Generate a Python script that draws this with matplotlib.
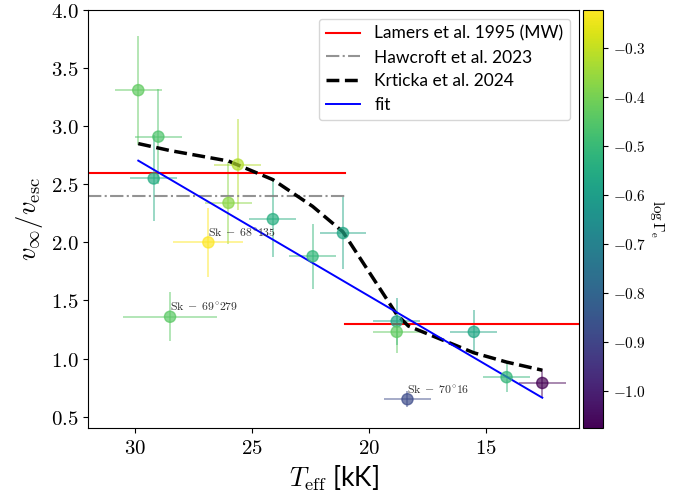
import numpy as np
import matplotlib
matplotlib.use("Agg")
import matplotlib.pyplot as plt
from matplotlib.ticker import FuncFormatter

plt.rcParams['mathtext.fontset'] = 'cm'

# data
teff = [29.86, 29.0, 29.2, 25.6, 26.0, 24.1, 21.1, 26.86, 22.4, 28.5, 18.8, 18.8, 15.5, 14.1, 12.57, 18.34]
teff_err = [1.0, 1.0, 1.0, 1.0, 1.0, 1.0, 1.0, 1.5, 1.0, 2.0, 1.0, 1.0, 1.0, 1.0, 1.0, 1.0]
vratio = [3.31, 2.91, 2.55, 2.67, 2.34, 2.20, 2.08, 2.00, 1.88, 1.36, 1.32, 1.23, 1.23, 0.84, 0.79, 0.65]
vratio_err = [0.47, 0.41, 0.37, 0.39, 0.35, 0.33, 0.31, 0.30, 0.28, 0.21, 0.20, 0.18, 0.19, 0.13, 0.12, 0.07]
log_gamma = [-0.43, -0.46, -0.55, -0.32, -0.37, -0.54, -0.57, -0.223, -0.51, -0.44, -0.58, -0.43, -0.57, -0.51, -1.075, -0.88]

labels = {7: r'$\rm Sk\;-\;68^{\circ}135$', 9: r'$\rm Sk\;-\;69^{\circ}279$', 15: r'$\rm Sk\;-\;70^{\circ}16$'}

lamers_hot = 2.6
lamers_cool = 1.3
hawcroft = 2.4
jump_T = 21.0

krt_T = [29.86, 28.5, 26.0, 24.1, 22.4, 21.1, 18.8, 18.3, 15.5, 14.1, 12.57]
krt_v = [2.85, 2.79, 2.70, 2.54, 2.31, 2.09, 1.38, 1.28, 1.05, 0.97, 0.90]

fit_coef = [0.118, -0.82]
fit_T = np.array([29.86, 12.57])

fig = plt.figure(figsize=(7.0, 5.01), dpi=100)
ax = fig.add_axes([0.1261, 0.1451, 0.701, 0.835])
cax = fig.add_axes([0.8324, 0.1451, 0.0294, 0.835])

xmin, xmax = 32, 11
ax.set_xlim(xmin, xmax)
ax.set_ylim(0.4, 4.0)

cmap = plt.get_cmap('viridis')
norm = plt.Normalize(min(log_gamma), max(log_gamma))

for i in range(len(teff)):
    ax.errorbar(teff[i], vratio[i], xerr=teff_err[i], yerr=vratio_err[i],
                fmt='none', ecolor=cmap(norm(log_gamma[i])), alpha=0.5, lw=1.3)
sc = ax.scatter(teff, vratio, c=log_gamma, cmap=cmap, norm=norm, s=65, alpha=0.7, zorder=3)

for i, txt in labels.items():
    ax.text(teff[i], vratio[i] + 0.05, txt, fontsize=8.5, color='#333333')

ax.plot([xmin, jump_T], [lamers_hot, lamers_hot], color='red', lw=1.5, label='Lamers et al. 1995 (MW)')
ax.plot([jump_T, xmax], [lamers_cool, lamers_cool], color='red', lw=1.5)
ax.plot([xmin, jump_T], [hawcroft, hawcroft], color='gray', alpha=0.85, ls='-.', lw=1.5, label='Hawcroft et al. 2023')
ax.plot(krt_T, krt_v, color='black', ls='--', lw=2.5, label='Krticka et al. 2024')
ax.plot(fit_T, np.polyval(fit_coef, fit_T), color='blue', lw=1.4, label='fit')

ax.legend(loc='upper right', prop={'family': 'Lato', 'size': 12.5}, labelspacing=0.45)

ax.set_xticks([30, 25, 20, 15])
ax.set_yticks([0.5, 1.0, 1.5, 2.0, 2.5, 3.0, 3.5, 4.0])
ax.xaxis.set_major_formatter(FuncFormatter(lambda x, p: r'$%g$' % x))
ax.yaxis.set_major_formatter(FuncFormatter(lambda x, p: r'$%.1f$' % x))
ax.tick_params(labelsize=15)
ax.set_xlabel(r'$T_{\rm eff}$ [kK]', fontsize=19, family='Lato')
ax.set_ylabel(r'$v_\infty/v_{\rm esc}$', fontsize=19)

cb = fig.colorbar(sc, cax=cax)
cb.solids.set_alpha(1)
cb.set_ticks([-1.0, -0.9, -0.8, -0.7, -0.6, -0.5, -0.4, -0.3])
cb.ax.yaxis.set_major_formatter(FuncFormatter(lambda x, p: r'$%.1f$' % x))
cb.ax.tick_params(labelsize=11)
cb.set_label(r'$\log\Gamma_{\rm e}$', rotation=270, fontsize=11, labelpad=14)

fig.savefig('out.png', dpi=100)
